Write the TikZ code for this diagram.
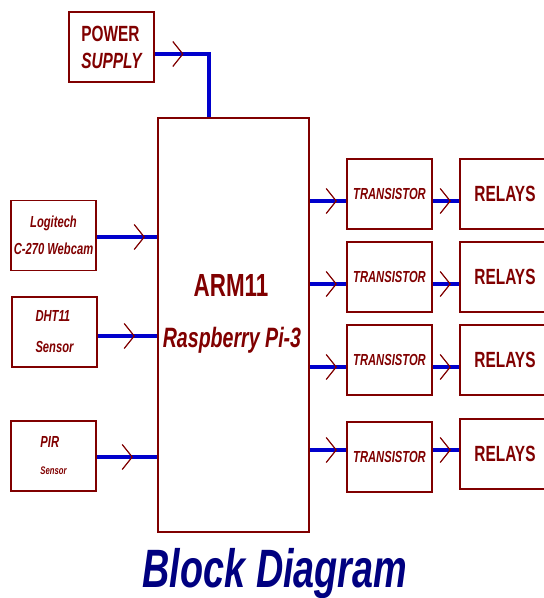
\documentclass[tikz,border=0pt]{standalone}
\usepackage{fontspec}
\usepackage{tikz}
\usepackage{xcolor}
\newfontfamily\narrowsans[FakeStretch=0.7]{Liberation Sans}
\usetikzlibrary{decorations.markings}

\definecolor{boxred}{RGB}{128,0,0}
\definecolor{wireblue}{RGB}{0,0,204}
\definecolor{titleblue}{RGB}{0,0,128}

\tikzset{
  blk/.style={draw=boxred, line width=1.6pt, text=boxred, inner sep=0pt,
    minimum width=85pt, minimum height=70pt},
  chevron/.style={draw=boxred, line width=1.2pt},
  feed/.style={draw=wireblue, line width=4.5pt,
    postaction={decorate, decoration={markings,
      mark=at position #1 with {\draw[chevron] (-10pt,12.5pt) -- (0pt,0pt) -- (-10pt,-12.5pt);}}}},
  smalltxt/.style={font=\narrowsans\bfseries\itshape\fontsize{16}{27}\selectfont},
  bigtxt/.style={font=\narrowsans\bfseries\fontsize{22}{26}\selectfont},
}

\begin{document}
\begin{tikzpicture}[x=1pt,y=-1pt]
  \useasboundingbox (0,0) rectangle (544,598);
  \clip (0,0) rectangle (544,598);

  \node[blk, align=left, font=\narrowsans\bfseries\fontsize{22}{27}\selectfont]
    (pow) at (111.5,47) {POWER\\{\itshape SUPPLY}};

  \node[blk, smalltxt, align=center] (cam) at (53.5,235.5) {Logitech\\C-270 Webcam};
  \node[blk, align=left, font=\narrowsans\bfseries\itshape\fontsize{16}{31}\selectfont]
    (dht) at (54.5,332) {DHT11\\Sensor};
  \node[blk, smalltxt, align=left] (pir) at (53.5,456) {PIR\\{\fontsize{11}{27}\selectfont Sensor}};

  \node[blk, minimum width=151pt, minimum height=414pt] (arm) at (233.5,325) {};
  \node[text=boxred, anchor=base, font=\narrowsans\bfseries\fontsize{32}{36}\selectfont]
    (armname) at (231,296) {ARM11};
  \node[text=boxred, anchor=base, font=\narrowsans\bfseries\itshape\fontsize{28}{32}\selectfont]
    (armboard) at (232,347) {Raspberry Pi-3};

  \node[blk, smalltxt] (tr1) at (389.5,194) {TRANSISTOR};
  \node[blk, smalltxt] (tr2) at (389.5,277) {TRANSISTOR};
  \node[blk, smalltxt] (tr3) at (389.5,360) {TRANSISTOR};
  \node[blk, smalltxt] (tr4) at (389.5,457) {TRANSISTOR};

  \node[blk, bigtxt, minimum width=90pt] (rl1) at (505,194) {RELAYS};
  \node[blk, bigtxt, minimum width=90pt] (rl2) at (505,277) {RELAYS};
  \node[blk, bigtxt, minimum width=90pt] (rl3) at (505,360) {RELAYS};
  \node[blk, bigtxt, minimum width=90pt] (rl4) at (505,454) {RELAYS};

  \node[text=titleblue, anchor=base, font=\narrowsans\bfseries\itshape\fontsize{54}{60}\selectfont]
    (title) at (275,587) {Block Diagram};

  % supply into the processor
  \coordinate (pin) at (arm.north -| 209,0);
  \draw[feed=28pt] (pow.east |- 0,54) -| (pin);

  % inputs
  \draw[feed=-13pt] (cam.east |- 0,237) -- (arm.west |- 0,237);
  \draw[feed=-23pt] (dht.east |- 0,336) -- (arm.west |- 0,336);
  \draw[feed=-25pt] (pir.east |- 0,457) -- (arm.west |- 0,457);

  % outputs
  \draw[feed=-10pt] (arm.east |- 0,201) -- (tr1.west |- 0,201);
  \draw[feed=-10pt] (arm.east |- 0,284) -- (tr2.west |- 0,284);
  \draw[feed=-10pt] (arm.east |- 0,367) -- (tr3.west |- 0,367);
  \draw[feed=-10pt] (arm.east |- 0,450) -- (tr4.west |- 0,450);

  \draw[feed=-9pt] (tr1.east |- 0,201) -- (rl1.west |- 0,201);
  \draw[feed=-9pt] (tr2.east |- 0,284) -- (rl2.west |- 0,284);
  \draw[feed=-9pt] (tr3.east |- 0,367) -- (rl3.west |- 0,367);
  \draw[feed=-9pt] (tr4.east |- 0,450) -- (rl4.west |- 0,450);
\end{tikzpicture}
\end{document}
